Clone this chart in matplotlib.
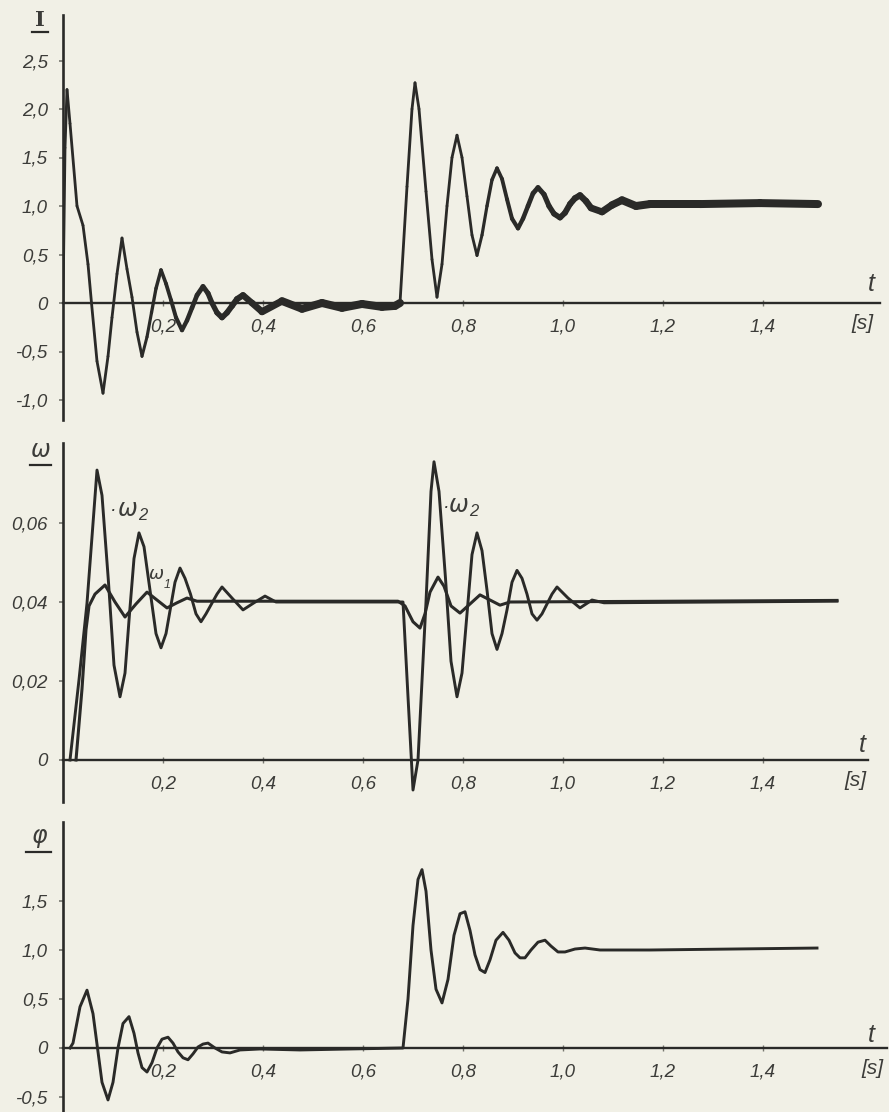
import numpy as np
import matplotlib
matplotlib.use("Agg")
import matplotlib.pyplot as plt
from matplotlib.collections import LineCollection
from matplotlib.lines import Line2D

# ---------------- data ----------------
I_t = [0.000, 0.004, 0.008, 0.014, 0.028, 0.040, 0.050, 0.057, 0.068, 0.080,
       0.090, 0.098, 0.108, 0.118, 0.128, 0.138, 0.148, 0.158, 0.168, 0.177,
       0.186, 0.196, 0.206, 0.216, 0.226, 0.238, 0.248, 0.258, 0.268, 0.280,
       0.290, 0.298, 0.308, 0.318, 0.328, 0.338, 0.348, 0.360, 0.378, 0.398,
       0.438, 0.478, 0.518, 0.558, 0.598, 0.638, 0.664,
       0.674, 0.688, 0.698, 0.704, 0.712, 0.726, 0.738, 0.748, 0.758, 0.768,
       0.778, 0.788, 0.798, 0.808, 0.818, 0.828, 0.838, 0.848, 0.858, 0.868,
       0.878, 0.888, 0.898, 0.910, 0.920, 0.930, 0.940, 0.950, 0.962, 0.972,
       0.982, 0.994, 1.004, 1.014, 1.024, 1.034, 1.046, 1.056, 1.078, 1.098,
       1.118, 1.146, 1.174, 1.274, 1.394, 1.510]
I_v = [0.0, 1.6, 2.2, 1.85, 1.0, 0.80, 0.40, 0.0, -0.6, -0.93,
       -0.55, -0.15, 0.30, 0.67, 0.35, 0.06, -0.30, -0.55, -0.35, -0.10,
       0.15, 0.34, 0.20, 0.03, -0.15, -0.28, -0.18, -0.05, 0.08, 0.17,
       0.10, 0.00, -0.10, -0.15, -0.10, -0.03, 0.04, 0.08, 0.00, -0.09,
       0.02, -0.06, 0.00, -0.05, -0.01, -0.04, -0.03,
       0.0, 1.2, 2.0, 2.27, 2.0, 1.15, 0.45, 0.06, 0.4, 1.0,
       1.5, 1.73, 1.5, 1.1, 0.7, 0.49, 0.7, 1.0, 1.27, 1.39,
       1.28, 1.07, 0.87, 0.77, 0.87, 1.0, 1.13, 1.19, 1.12, 1.0,
       0.92, 0.88, 0.93, 1.02, 1.08, 1.11, 1.05, 0.98, 0.94, 1.01,
       1.06, 1.0, 1.02, 1.02, 1.03, 1.02]

w2_t = [0.014, 0.032, 0.048, 0.058, 0.068, 0.078, 0.091, 0.102, 0.114, 0.124,
        0.133, 0.142, 0.152, 0.162, 0.174, 0.186, 0.196, 0.206, 0.215, 0.224,
        0.234, 0.244, 0.255, 0.266, 0.276, 0.286, 0.297, 0.308, 0.318, 0.338,
        0.360, 0.382, 0.404, 0.426, 0.680, 0.690, 0.700, 0.710, 0.726, 0.736,
        0.742, 0.752, 0.765, 0.776, 0.788, 0.798, 0.808, 0.818, 0.828, 0.838,
        0.848, 0.858, 0.868, 0.878, 0.888, 0.898, 0.908, 0.918, 0.928, 0.938,
        0.948, 0.958, 0.968, 0.978, 0.988, 1.010, 1.034, 1.058, 1.082, 1.548]
w2_v = [0.0, 0.0203, 0.0397, 0.0565, 0.0734, 0.067, 0.045, 0.024, 0.016, 0.022,
        0.037, 0.051, 0.0575, 0.054, 0.043, 0.032, 0.0284, 0.032, 0.0385, 0.045,
        0.0486, 0.046, 0.042, 0.037, 0.035, 0.037, 0.0395, 0.042, 0.0438, 0.041,
        0.038, 0.0398, 0.0415, 0.0400, 0.0400, 0.016, -0.0076, 0.0, 0.040, 0.068,
        0.0755, 0.068, 0.046, 0.025, 0.016, 0.022, 0.037, 0.052, 0.0575, 0.053,
        0.043, 0.032, 0.028, 0.032, 0.038, 0.045, 0.048, 0.046, 0.042, 0.037,
        0.0354, 0.037, 0.0395, 0.042, 0.0438, 0.041, 0.0385, 0.0405, 0.0398, 0.0402]

w1_t = [0.026, 0.038, 0.046, 0.052, 0.064, 0.084, 0.104, 0.124, 0.146, 0.168,
        0.188, 0.208, 0.228, 0.248, 0.268, 0.670, 0.684, 0.700, 0.714, 0.724,
        0.734, 0.750, 0.762, 0.776, 0.794, 0.814, 0.834, 0.854, 0.874, 0.894, 1.548]
w1_v = [0.0, 0.018, 0.033, 0.039, 0.042, 0.0443, 0.040, 0.0362, 0.0395, 0.0425,
        0.0405, 0.0385, 0.0398, 0.041, 0.0402, 0.0402, 0.039, 0.035, 0.0334, 0.037,
        0.0425, 0.0463, 0.044, 0.039, 0.0372, 0.0395, 0.0418, 0.0405, 0.0392, 0.0400, 0.0404]

phi_t = [0.014, 0.020, 0.034, 0.048, 0.060, 0.069, 0.078, 0.090, 0.100, 0.110,
         0.120, 0.132, 0.142, 0.150, 0.158, 0.168, 0.178, 0.188, 0.198, 0.210,
         0.220, 0.230, 0.240, 0.250, 0.260, 0.270, 0.280, 0.290, 0.304, 0.318,
         0.334, 0.354, 0.394, 0.474, 0.574, 0.680,
         0.690, 0.700, 0.710, 0.718, 0.726, 0.736, 0.746, 0.758, 0.770, 0.782,
         0.794, 0.804, 0.814, 0.824, 0.834, 0.844, 0.854, 0.866, 0.880, 0.892,
         0.904, 0.914, 0.924, 0.936, 0.950, 0.964, 0.976, 0.990, 1.004, 1.024,
         1.044, 1.074, 1.174, 1.508]
phi_v = [0.0, 0.05, 0.42, 0.59, 0.35, 0.0, -0.35, -0.53, -0.35, 0.0,
         0.25, 0.32, 0.15, -0.05, -0.20, -0.245, -0.15, 0.0, 0.09, 0.11,
         0.05, -0.04, -0.10, -0.12, -0.06, 0.01, 0.04, 0.05, 0.0, -0.04,
         -0.05, -0.02, -0.01, -0.02, -0.01, 0.0,
         0.5, 1.25, 1.72, 1.82, 1.6, 1.0, 0.6, 0.46, 0.7, 1.15,
         1.37, 1.39, 1.2, 0.95, 0.8, 0.77, 0.9, 1.1, 1.18, 1.1,
         0.97, 0.92, 0.92, 1.0, 1.08, 1.10, 1.04, 0.98, 0.98, 1.01,
         1.02, 1.0, 1.0, 1.02]

x_ticks = [0.2, 0.4, 0.6, 0.8, 1.0, 1.2, 1.4]
x_tick_labels = ["0,2", "0,4", "0,6", "0,8", "1,0", "1,2", "1,4"]
I_ticks = [2.5, 2.0, 1.5, 1.0, 0.5, 0.0, -0.5, -1.0]
I_tick_labels = ["2,5", "2,0", "1,5", "1,0", "0,5", "0", "-0,5", "-1,0"]
w_ticks = [0.06, 0.04, 0.02, 0.0]
w_tick_labels = ["0,06", "0,04", "0,02", "0"]
phi_ticks = [1.5, 1.0, 0.5, 0.0, -0.5]
phi_tick_labels = ["1,5", "1,0", "0,5", "0", "-0,5"]

# ---------------- styling ----------------
W, H = 889, 1112
DPI = 100
PAPER = "#f1f0e6"
INK = "#2a2a28"
TXT = "#3c3c39"
FONT = "Liberation Sans"

fig = plt.figure(figsize=(W / DPI, H / DPI), dpi=DPI, facecolor=PAPER)

PX_PER_T = 500.0
X0 = 63
XMAX = 1.65


def make_ax(top_px, bot_px, zero_px, units_per_px, xend_t):
    ax = fig.add_axes([X0 / W, 1 - bot_px / H, XMAX * PX_PER_T / W, (bot_px - top_px) / H])
    ax.set_facecolor("none")
    ax.set_xlim(0, XMAX)
    ax.set_ylim((zero_px - bot_px) * units_per_px, (zero_px - top_px) * units_per_px)
    for s in ("top", "right"):
        ax.spines[s].set_visible(False)
    ax.spines["bottom"].set_position(("data", 0))
    ax.spines["bottom"].set_bounds(0, xend_t)
    ax.spines["left"].set_linewidth(1.9)
    ax.spines["bottom"].set_linewidth(1.7)
    ax.spines["left"].set_color(INK)
    ax.spines["bottom"].set_color(INK)
    ax.set_xticks(x_ticks, labels=x_tick_labels, fontstyle="italic", fontfamily=FONT,
                  fontsize=13.5, color=TXT)
    ax.tick_params(axis="x", direction="inout", length=4, width=1, color="#777770", pad=9)
    ax.tick_params(axis="y", direction="out", length=3, width=1.2, color="#777770", pad=8)
    return ax


def ylabels(ax, ticks, labels):
    ax.set_yticks(ticks, labels=labels, fontstyle="italic", fontfamily=FONT,
                  fontsize=13.5, color=TXT)


# ---- top panel: I ----
ax1 = make_ax(15, 420, 303, 1 / 97.0, (880 - X0) / PX_PER_T)
ylabels(ax1, I_ticks, I_tick_labels)
pts = np.column_stack([I_t, I_v])
segs = np.stack([pts[:-1], pts[1:]], axis=1)
tm = 0.5 * (pts[:-1, 0] + pts[1:, 0])
dt = np.where(tm >= 0.67, tm - 0.67, tm)
lw_px = 2.8 + 5.2 * np.clip((dt - 0.15) / 0.32, 0, 1)
lc = LineCollection(segs, linewidths=lw_px * 72 / DPI, colors=INK, capstyle="round",
                    joinstyle="round")
ax1.add_collection(lc)

# ---- middle panel: omega ----
ax2 = make_ax(443, 802, 760, 0.02 / 79.0, (868 - X0) / PX_PER_T)
ylabels(ax2, w_ticks, w_tick_labels)
ax2.plot(w2_t, w2_v, color=INK, lw=2.1, solid_joinstyle="round")
ax2.plot(w1_t, w1_v, color=INK, lw=2.2, solid_joinstyle="round")

# ---- bottom panel: phi ----
ax3 = make_ax(822, 1112, 1048, 1 / 98.0, (887 - X0) / PX_PER_T)
ylabels(ax3, phi_ticks, phi_tick_labels)
ax3.plot(phi_t, phi_v, color=INK, lw=2.1, solid_joinstyle="round")


# ---------------- annotations ----------------
def ftext(x, y, s, size, **kw):
    kw.setdefault("fontfamily", FONT)
    kw.setdefault("fontstyle", "italic")
    kw.setdefault("color", TXT)
    fig.text(x / W, 1 - y / H, s, fontsize=size, ha="center", va="center", **kw)


def uline(x0, x1, y, lw=1.6):
    fig.add_artist(Line2D([x0 / W, x1 / W], [1 - y / H, 1 - y / H],
                          transform=fig.transFigure, color=INK, lw=lw))


ftext(40, 20, "I", 15, fontstyle="normal", fontweight="bold", fontfamily="DejaVu Serif")
uline(32, 48, 32)
ftext(41, 450, "ω", 17, fontfamily="DejaVu Sans")
uline(30, 51, 465)
ftext(40, 836, "φ", 17, fontfamily="DejaVu Sans")
uline(26, 51, 852)

for (tx, ty), (sx, sy) in [((871, 284), (862, 323)),
                           ((862, 745), (855, 781)),
                           ((871, 1035), (872, 1069))]:
    ftext(tx, ty, "t", 18)
    ftext(sx, sy, "[s]", 15)

# omega curve labels
ftext(113, 511, "·", 14)
ftext(128, 509, "ω", 17, fontfamily="DejaVu Sans")
ftext(143, 516, "2", 12)
ftext(446, 508, "·", 14)
ftext(459, 505, "ω", 17, fontfamily="DejaVu Sans")
ftext(474, 512, "2", 12)
ftext(156, 574, "ω", 13, fontfamily="DejaVu Sans")
ftext(167, 585, "1", 9)

fig.savefig("out.png", dpi=DPI, facecolor=PAPER)
